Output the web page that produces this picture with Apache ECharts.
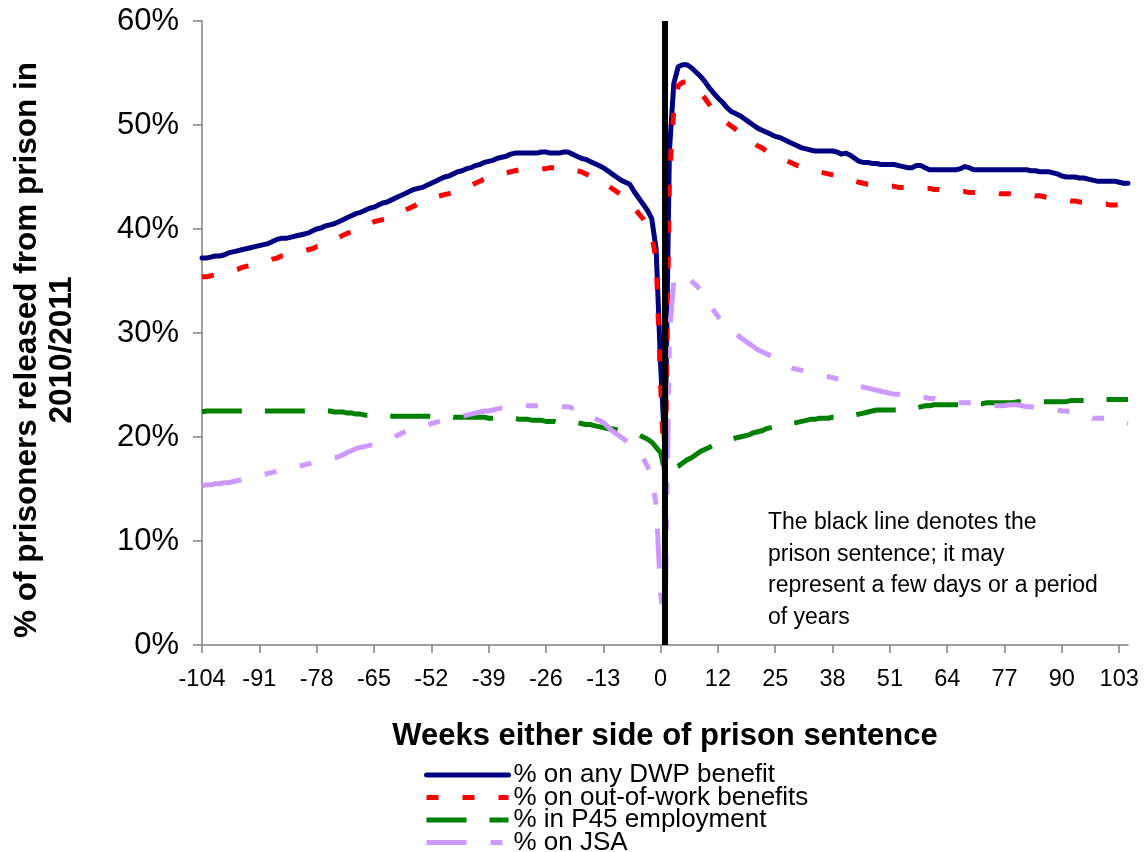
<!DOCTYPE html>
<html>
<head>
<meta charset="utf-8">
<script src="https://cdn.jsdelivr.net/npm/echarts@6/dist/echarts.min.js"></script>
<style>
  html, body { margin: 0; padding: 0; background: #ffffff; }
  #chart { width: 1147px; height: 852px; }
</style>
</head>
<body>
<div id="chart"></div>
<script>
// Weeks before release (-104 .. 0), the prison sentence itself, weeks after release (1 .. 105)
const weeksBefore = [];
for (let w = -104; w <= 0; w++) weeksBefore.push(String(w));
const sentenceCategory = ' ';
const weeksAfter = [];
for (let w = 1; w <= 105; w++) weeksAfter.push(String(w));
const categories = [...weeksBefore, sentenceCategory, ...weeksAfter];

// % on any DWP benefit
const dwpBefore = [
  37.2, 37.2, 37.3, 37.4, 37.4, 37.5, 37.7, 37.8, 37.9, 38.0, 38.1, 38.2, 38.3, 38.4,
  38.5, 38.6, 38.8, 39.0, 39.1, 39.1, 39.2, 39.3, 39.4, 39.5, 39.6, 39.8, 40.0,
  40.1, 40.3, 40.4, 40.5, 40.7, 40.9, 41.1, 41.3, 41.5, 41.6, 41.8, 42.0, 42.1,
  42.3, 42.5, 42.6, 42.8, 43.0, 43.2, 43.4, 43.6, 43.8, 43.9, 44.0, 44.2, 44.4,
  44.6, 44.8, 45.0, 45.1, 45.3, 45.5, 45.6, 45.8, 45.9, 46.1, 46.2, 46.4, 46.5,
  46.6, 46.8, 46.9, 47.0, 47.2, 47.3, 47.3, 47.3, 47.3, 47.3, 47.3, 47.4, 47.4,
  47.3, 47.3, 47.3, 47.4, 47.4, 47.2, 47.0, 46.8, 46.7, 46.5, 46.3, 46.1, 45.9,
  45.6, 45.3, 45.0, 44.7, 44.5, 44.3, 43.6, 43.0, 42.4, 41.8, 41.0, 38.0, 27.0
];
const dwpSentence = 18.5;
const dwpAfter = [
  47.5, 54.0, 55.6, 55.8, 55.8, 55.5, 55.1, 54.7, 54.2, 53.6, 53.1, 52.6, 52.2,
  51.7, 51.3, 51.1, 50.9, 50.6, 50.3, 50.0, 49.7, 49.5, 49.3, 49.1, 48.9, 48.8,
  48.6, 48.4, 48.2, 48.0, 47.8, 47.7, 47.6, 47.5, 47.5, 47.5, 47.5, 47.5, 47.4,
  47.2, 47.3, 47.1, 46.8, 46.5, 46.4, 46.4, 46.3, 46.3, 46.2, 46.2, 46.2, 46.2,
  46.1, 46.0, 45.9, 45.9, 46.1, 46.1, 45.9, 45.7, 45.7, 45.7, 45.7, 45.7, 45.7,
  45.7, 45.8, 46.0, 45.9, 45.7, 45.7, 45.7, 45.7, 45.7, 45.7, 45.7, 45.7, 45.7,
  45.7, 45.7, 45.7, 45.7, 45.6, 45.6, 45.5, 45.5, 45.5, 45.4, 45.3, 45.1, 45.0,
  45.0, 45.0, 44.9, 44.9, 44.8, 44.7, 44.6, 44.6, 44.6, 44.6, 44.6, 44.5, 44.4,
  44.4
];

// % on out-of-work benefits
const oowBefore = [
  35.4, 35.4, 35.5, 35.6, 35.7, 35.8, 35.9, 36.0, 36.1, 36.3, 36.4, 36.5, 36.6, 36.7,
  36.8, 36.9, 37.1, 37.2, 37.4, 37.5, 37.6, 37.7, 37.8, 37.9, 38.0, 38.1, 38.3,
  38.4, 38.6, 38.8, 39.0, 39.2, 39.4, 39.6, 39.7, 39.9, 40.1, 40.3, 40.5, 40.7,
  40.8, 40.9, 41.0, 41.2, 41.4, 41.6, 41.8, 42.0, 42.2, 42.4, 42.6, 42.8, 43.0,
  43.1, 43.2, 43.3, 43.4, 43.5, 43.7, 43.8, 44.0, 44.2, 44.4, 44.6, 44.8, 45.0,
  45.1, 45.2, 45.3, 45.4, 45.5, 45.6, 45.7, 45.8, 45.8, 45.8, 45.8, 45.8, 45.8,
  45.9, 45.9, 45.9, 45.9, 45.9, 45.8, 45.6, 45.5, 45.3, 45.1, 44.9, 44.7, 44.5,
  44.2, 43.9, 43.6, 43.3, 42.9, 42.5, 42.1, 41.5, 41.0, 40.4, 39.4, 37.0, 25.0
];
const oowSentence = 15.0;
const oowAfter = [
  45.0, 51.5, 53.8, 54.1, 54.2, 54.0, 53.6, 53.1, 52.6, 52.0, 51.4, 51.0, 50.6,
  50.2, 49.9, 49.6, 49.3, 48.9, 48.6, 48.3, 48.0, 47.8, 47.5, 47.3, 47.1, 46.9,
  46.7, 46.5, 46.3, 46.1, 46.0, 45.9, 45.7, 45.6, 45.5, 45.4, 45.3, 45.2, 45.1,
  45.0, 44.9, 44.7, 44.6, 44.5, 44.4, 44.3, 44.3, 44.2, 44.1, 44.1, 44.1, 44.1,
  44.0, 44.0, 44.0, 44.0, 44.0, 44.0, 43.9, 43.9, 43.8, 43.8, 43.7, 43.7, 43.6,
  43.6, 43.6, 43.6, 43.5, 43.5, 43.5, 43.5, 43.5, 43.5, 43.5, 43.4, 43.4, 43.4,
  43.3, 43.3, 43.3, 43.3, 43.3, 43.2, 43.2, 43.1, 43.0, 43.0, 42.9, 42.8, 42.8,
  42.7, 42.7, 42.6, 42.6, 42.5, 42.5, 42.4, 42.4, 42.4, 42.3, 42.3, 42.3, 42.2,
  42.2
];

// % in P45 employment
const p45Before = [
  22.4, 22.5, 22.5, 22.5, 22.5, 22.5, 22.5, 22.5, 22.5, 22.5, 22.5, 22.5, 22.5, 22.5,
  22.5, 22.5, 22.5, 22.5, 22.5, 22.5, 22.5, 22.5, 22.5, 22.5, 22.5, 22.5, 22.5,
  22.5, 22.5, 22.5, 22.4, 22.4, 22.4, 22.3, 22.3, 22.2, 22.2, 22.1, 22.1, 22.1,
  22.1, 22.1, 22.0, 22.0, 22.0, 22.0, 22.0, 22.0, 22.0, 22.0, 22.0, 22.0, 22.0,
  22.0, 22.0, 22.0, 22.0, 21.9, 21.9, 21.9, 21.9, 21.9, 21.9, 21.9, 21.9, 21.8,
  21.8, 21.8, 21.8, 21.8, 21.8, 21.8, 21.7, 21.7, 21.7, 21.6, 21.6, 21.6, 21.5,
  21.5, 21.5, 21.4, 21.4, 21.4, 21.4, 21.4, 21.3, 21.2, 21.2, 21.1, 21.0, 20.9,
  20.8, 20.8, 20.7, 20.6, 20.5, 20.4, 20.3, 20.2, 20.0, 19.8, 19.5, 19.0, 18.5
];
const p45Sentence = 16.5;
const p45After = [
  16.8, 17.0, 17.2, 17.5, 17.8, 18.0, 18.3, 18.6, 18.8, 19.0, 19.2, 19.4, 19.6,
  19.7, 19.8, 19.9, 20.0, 20.1, 20.2, 20.4, 20.5, 20.6, 20.8, 20.9, 21.0, 21.1,
  21.2, 21.3, 21.3, 21.4, 21.5, 21.6, 21.7, 21.7, 21.8, 21.8, 21.8, 21.9, 21.9,
  22.0, 22.0, 22.1, 22.1, 22.2, 22.3, 22.4, 22.5, 22.6, 22.6, 22.6, 22.6, 22.6,
  22.6, 22.6, 22.6, 22.7, 22.8, 22.9, 23.0, 23.0, 23.1, 23.1, 23.1, 23.1, 23.1,
  23.1, 23.1, 23.1, 23.2, 23.2, 23.2, 23.2, 23.3, 23.3, 23.3, 23.3, 23.3, 23.3,
  23.3, 23.4, 23.4, 23.4, 23.4, 23.4, 23.4, 23.4, 23.4, 23.4, 23.4, 23.4, 23.4,
  23.5, 23.5, 23.5, 23.5, 23.5, 23.5, 23.6, 23.6, 23.6, 23.6, 23.6, 23.6, 23.6,
  23.6
];

// % on JSA
const jsaBefore = [
  15.3, 15.4, 15.4, 15.5, 15.5, 15.6, 15.6, 15.7, 15.8, 15.9, 16.0, 16.1, 16.2, 16.3,
  16.4, 16.5, 16.6, 16.7, 16.8, 16.9, 17.0, 17.1, 17.2, 17.3, 17.4, 17.5, 17.6,
  17.7, 17.8, 17.9, 18.0, 18.1, 18.3, 18.5, 18.7, 18.9, 19.0, 19.1, 19.2, 19.3,
  19.4, 19.5, 19.7, 19.9, 20.1, 20.3, 20.5, 20.7, 20.8, 20.9, 21.0, 21.1, 21.3,
  21.4, 21.5, 21.6, 21.7, 21.8, 21.9, 22.0, 22.1, 22.2, 22.3, 22.4, 22.5, 22.5,
  22.6, 22.7, 22.8, 22.8, 22.9, 23.0, 23.1, 23.1, 23.0, 23.0, 23.0, 23.0, 23.0,
  23.0, 23.0, 23.0, 22.9, 22.9, 22.8, 22.8, 22.6, 22.3, 22.0, 21.8, 21.6, 21.4,
  21.0, 20.6, 20.3, 20.0, 19.7, 19.3, 19.0, 18.6, 18.0, 17.2, 16.0, 13.5, 5.0
];
const jsaSentence = 1.5;
const jsaAfter = [
  30.0, 35.0, 35.6, 35.6, 35.4, 35.0, 34.6, 34.2, 33.6, 32.9, 32.2, 31.6, 31.0,
  30.6, 30.3, 30.0, 29.6, 29.3, 29.0, 28.7, 28.4, 28.2, 28.0, 27.8, 27.6, 27.4,
  27.1, 26.8, 26.6, 26.5, 26.4, 26.3, 26.2, 26.1, 26.0, 25.9, 25.8, 25.7, 25.6,
  25.5, 25.4, 25.3, 25.1, 24.9, 24.8, 24.7, 24.6, 24.5, 24.4, 24.3, 24.2, 24.1,
  24.1, 24.0, 24.0, 24.0, 24.0, 23.8, 23.8, 23.7, 23.7, 23.6, 23.6, 23.5, 23.4,
  23.3, 23.3, 23.3, 23.3, 23.3, 23.3, 23.3, 23.2, 23.0, 23.0, 23.0, 23.0, 23.1,
  23.1, 23.1, 23.0, 22.9, 22.9, 22.8, 22.8, 22.7, 22.7, 22.6, 22.6, 22.5, 22.5,
  22.4, 22.3, 22.3, 22.2, 22.0, 21.8, 21.8, 21.8, 21.8, 21.8, 21.8, 21.7, 21.4,
  21.3
];

const seriesNames = [
  '% on any DWP benefit',
  '% on out-of-work benefits',
  '% in P45 employment',
  '% on JSA'
];
const sentenceIndex = weeksBefore.length;   // position of the black sentence line

const join = (before, mid, after) => [...before, mid, ...after];

const FONT = '"Liberation Sans", Arial, sans-serif';

// one legend row per series, stacked tightly
const legendRows = seriesNames.map((name, i) => ({
  orient: 'horizontal',
  left: 424,
  top: 762 + i * 22.5,
  padding: 0,
  itemWidth: 82,
  itemHeight: 12,
  data: [name],
  itemStyle: { opacity: 0 },
  lineStyle: { width: 5 },
  textStyle: { fontFamily: FONT, fontSize: 26, color: '#000', lineHeight: 22, padding: [0, 0, 0, 0] }
}));

const chart = echarts.init(document.getElementById('chart'), null, { renderer: 'canvas' });

chart.setOption({
  animation: false,
  backgroundColor: '#ffffff',
  textStyle: { fontFamily: FONT, color: '#000000' },
  grid: { left: 202, right: 19, top: 21, bottom: 207, containLabel: false },
  xAxis: {
    type: 'category',
    data: categories,
    boundaryGap: false,
    name: 'Weeks either side of prison sentence',
    nameLocation: 'middle',
    nameGap: 76,
    nameTextStyle: { fontFamily: FONT, fontSize: 31, fontWeight: 'bold', color: '#000' },
    axisLine: { lineStyle: { color: '#808080', width: 1.5 } },
    axisTick: { show: true, interval: 12, length: 8, lineStyle: { color: '#808080', width: 1.5 } },
    axisLabel: { interval: 12, fontSize: 23.5, color: '#000', margin: 23, fontFamily: FONT },
    splitLine: { show: false }
  },
  yAxis: {
    type: 'value',
    min: 0,
    max: 60,
    interval: 10,
    axisLine: { show: true, lineStyle: { color: '#808080', width: 1.5 } },
    axisTick: { show: true, length: 9, lineStyle: { color: '#808080', width: 1.5 } },
    axisLabel: { formatter: '{value}%', fontSize: 31, color: '#000', margin: 23, fontFamily: FONT },
    splitLine: { show: false }
  },
  legend: legendRows,
  graphic: [
    {
      // y-axis title, two centred lines rotated to read bottom-to-top
      type: 'text',
      x: 45,
      y: 350,
      rotation: Math.PI / 2,
      style: {
        text: '% of prisoners released from prison in\n2010/2011',
        font: 'bold 31.5px "Liberation Sans", Arial, sans-serif',
        lineHeight: 35,
        align: 'center',
        verticalAlign: 'middle',
        fill: '#000'
      }
    },
    {
      type: 'text',
      left: 768,
      top: 507,
      style: {
        text: 'The black line denotes the\nprison sentence; it may\nrepresent a few days or a period\nof years',
        font: '23px "Liberation Sans", Arial, sans-serif',
        lineHeight: 31.6,
        fill: '#000'
      }
    }
  ],
  series: [
    {
      name: seriesNames[0],
      type: 'line',
      data: join(dwpBefore, dwpSentence, dwpAfter),
      symbol: 'none',
      color: '#000080',
      lineStyle: { color: '#000080', width: 5, type: 'solid', cap: 'round', join: 'round' },
      z: 2
    },
    {
      name: seriesNames[1],
      type: 'line',
      data: join(oowBefore, oowSentence, oowAfter),
      symbol: 'none',
      color: '#FF0000',
      lineStyle: { color: '#FF0000', width: 5, type: [12, 24], cap: 'butt', join: 'round' },
      z: 3
    },
    {
      name: seriesNames[2],
      type: 'line',
      data: join(p45Before, p45Sentence, p45After),
      symbol: 'none',
      color: '#008000',
      lineStyle: { color: '#008000', width: 5, type: [40, 23], cap: 'butt', join: 'round' },
      z: 4
    },
    {
      name: seriesNames[3],
      type: 'line',
      data: join(jsaBefore, jsaSentence, jsaAfter),
      symbol: 'none',
      color: '#CC99FF',
      lineStyle: { color: '#CC99FF', width: 5, type: [40, 24, 12, 24, 12, 24], cap: 'butt', join: 'round' },
      z: 5,
      markLine: {
        silent: true,
        symbol: ['none', 'none'],
        label: { show: false },
        lineStyle: { color: '#000000', width: 6, type: 'solid' },
        z: 10,
        data: [{ xAxis: sentenceIndex }]
      }
    }
  ]
});
</script>
</body>
</html>
